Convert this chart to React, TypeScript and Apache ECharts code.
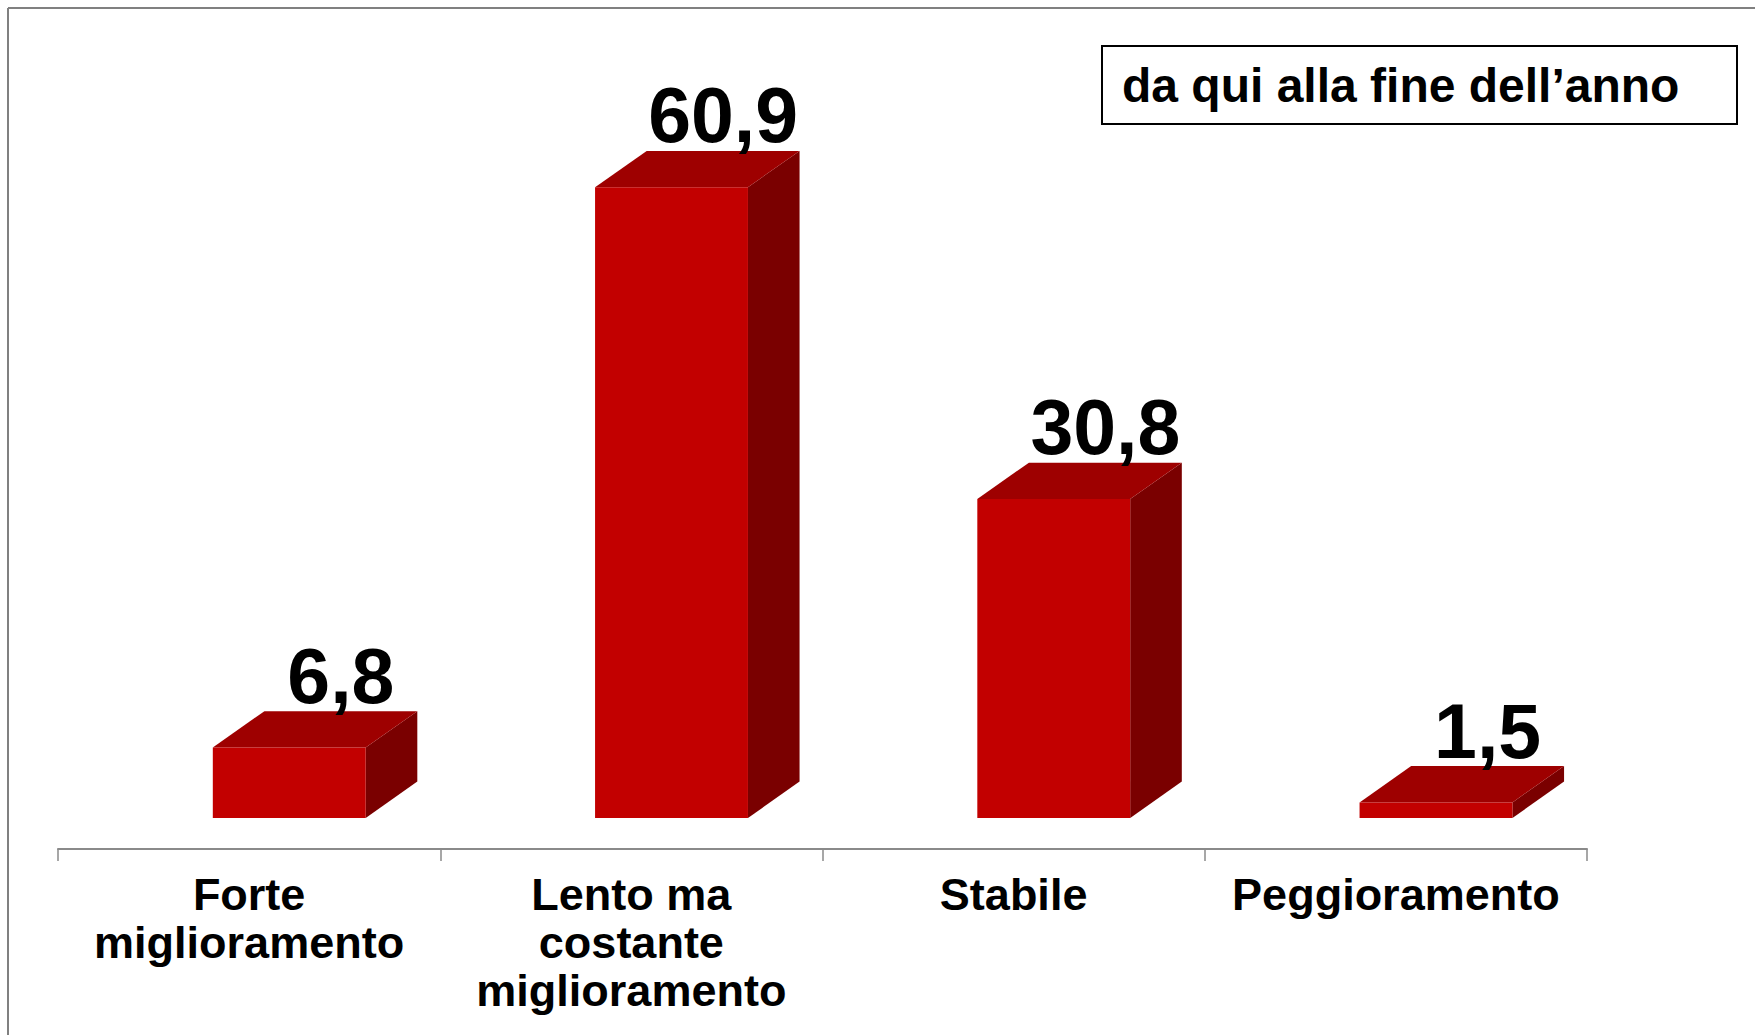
import React, { useEffect, useRef } from "react";
import * as echarts from "echarts";

const categories = [
  "Forte\nmiglioramento",
  "Lento ma\ncostante\nmiglioramento",
  "Stabile",
  "Peggioramento",
];
const values = [6.8, 60.9, 30.8, 1.5];
const legendText = "da qui alla fine dell\u2019anno";

const FONT = "'Liberation Sans', Arial, Helvetica, sans-serif";
const FRONT = "#C20000";
const TOP = "#9E0000";
const SIDE = "#7A0000";

export default function App() {
  const ref = useRef<HTMLDivElement>(null);
  useEffect(() => {
    if (!ref.current) return;
    const chart = echarts.init(ref.current, undefined, { renderer: "svg" });
    const option: any = {
      animation: false,
      backgroundColor: "#ffffff",
      grid: { left: 58, right: 168, top: 93, bottom: 186 },
      xAxis: {
        type: "category",
        data: categories,
        axisLine: { onZero: false, lineStyle: { color: "#8a8a8a", width: 2 } },
        axisTick: { show: true, length: 12, lineStyle: { color: "#8a8a8a", width: 1.5 } },
        axisLabel: {
          interval: 0,
          margin: 21,
          fontFamily: FONT,
          fontWeight: "bold",
          fontSize: 45,
          lineHeight: 48,
          color: "#000",
        },
      },
      yAxis: {
        type: "value",
        min: -3,
        max: 70,
        show: false,
        splitLine: { show: false },
      },
      series: [
        {
          type: "custom",
          data: values.map((v, i) => [i, v]),
          renderItem: (params: any, api: any) => {
            const idx = api.value(0);
            const val = api.value(1);
            const base = api.coord([idx, 0]);
            const top = api.coord([idx, val]);
            const cw = api.size([1, 0])[0];
            const w = cw * 0.4;
            const off = cw * 0.105;
            const dx = cw * 0.135;
            const dy = cw * 0.095;
            const x0 = base[0] + off - w / 2;
            const x1 = x0 + w;
            const yb = base[1];
            const yt = top[1];
            const label = val.toFixed(1).replace(".", ",");
            return {
              type: "group",
              children: [
                {
                  type: "polygon",
                  shape: { points: [[x1, yb], [x1 + dx, yb - dy], [x1 + dx, yt - dy], [x1, yt]] },
                  style: { fill: SIDE },
                },
                {
                  type: "polygon",
                  shape: { points: [[x0, yt], [x1, yt], [x1 + dx, yt - dy], [x0 + dx, yt - dy]] },
                  style: { fill: TOP },
                },
                {
                  type: "rect",
                  shape: { x: x0, y: yt, width: w, height: yb - yt },
                  style: { fill: FRONT },
                },
                {
                  type: "text",
                  style: {
                    text: label,
                    x: (x0 + x1) / 2 + dx,
                    y: yt - dy + 3,
                    align: "center",
                    verticalAlign: "bottom",
                    fontFamily: FONT,
                    fontWeight: "bold",
                    fontSize: 77,
                    fill: "#000",
                  },
                },
              ],
            };
          },
        },
      ],
      graphic: [
        {
          type: "line",
          shape: { x1: 8, y1: 8, x2: 1755, y2: 8 },
          style: { stroke: "#808080", lineWidth: 2 },
        },
        {
          type: "line",
          shape: { x1: 8, y1: 8, x2: 8, y2: 1035 },
          style: { stroke: "#808080", lineWidth: 2 },
        },
        {
          type: "rect",
          shape: { x: 1102, y: 46, width: 635, height: 78 },
          style: { fill: "#fff", stroke: "#000", lineWidth: 2 },
        },
        {
          type: "text",
          x: 1122,
          y: 85,
          style: {
            text: legendText,
            fontFamily: FONT,
            fontWeight: "bold",
            fontSize: 48,
            fill: "#000",
            verticalAlign: "middle",
            align: "left",
          },
        },
      ],
    };
    chart.setOption(option);
    return () => chart.dispose();
  }, []);
  return (
    <div
      ref={ref}
      style={{ position: "fixed", left: 0, top: 0, width: 1755, height: 1035 }}
    />
  );
}
